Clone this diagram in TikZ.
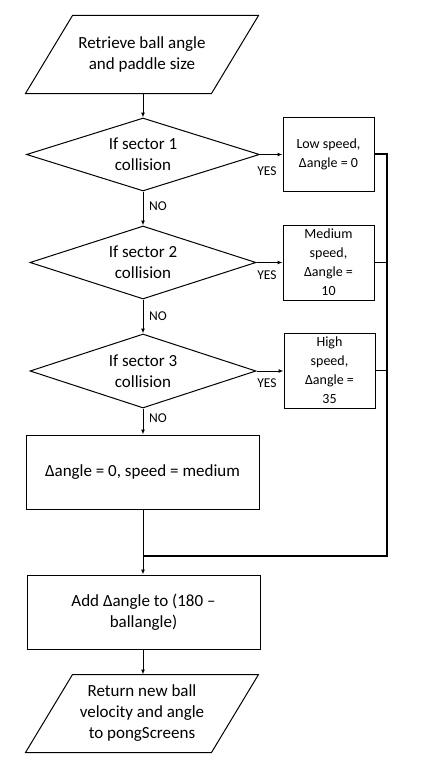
\documentclass[tikz,border=0pt]{standalone}
\usepackage{fontspec}
\setmainfont{Carlito}
\usepackage{tikz}
\usetikzlibrary{arrows.meta,shapes.geometric}
\newcommand{\arrw}{-{Latex[length=5pt,width=4pt]}}
\newcommand{\slantbox}[1]{\draw ([xshift=23.5pt]#1.north west) -- ([xshift=23.5pt]#1.north east)
  -- ([xshift=-23.5pt]#1.south east) -- ([xshift=-23.5pt]#1.south west) -- cycle;}
\tikzset{
  io/.style={minimum width=185pt,minimum height=77pt,inner sep=0pt,
    align=center,font=\fontsize{17}{21}\selectfont},
  decision/.style={diamond,draw,line width=1pt,inner sep=0pt,aspect=3,
    align=center,font=\fontsize{17}{21}\selectfont},
  procbig/.style={draw,line width=1pt,minimum width=233pt,minimum height=74pt,
    align=center,font=\fontsize{17}{21}\selectfont},
  procsmall/.style={draw,line width=1pt,minimum width=91pt,minimum height=75pt,
    inner sep=0pt,align=center,font=\fontsize{14}{19}\selectfont},
  answer/.style={font=\fontsize{13.5}{14}\selectfont,inner sep=0pt}
}

\begin{document}
\begin{tikzpicture}[x=1pt,y=1pt,line width=1pt]
\useasboundingbox (0,0) rectangle (426,-768);
%inputs and decisions
\node[io] (start) at (142,-54.5) {Retrieve ball angle\\and paddle size};
\slantbox{start}
\node[decision,minimum width=233pt,minimum height=73pt] (d1) at (143,-154.5) {If sector 1\\collision};
\node[decision,minimum width=226pt,minimum height=73pt] (d2) at (143,-262.5) {If sector 2\\collision};
\node[decision,minimum width=226pt,minimum height=74pt] (d3) at (143,-371) {If sector 3\\collision};
%speed boxes
\node[procsmall,minimum height=74pt] (b1) at (328.5,-154) {Low speed,\\Δangle = 0};
\node[procsmall] (b2) at (328.5,-262.5) {Medium\\speed,\\Δangle =\\10};
\node[procsmall] (b3) at (329.5,-370.5) {High\\speed,\\Δangle =\\35};
\node[procbig] (b4) at (142.5,-472) {Δangle = 0, speed = medium};
\node[procbig] (b5) at (143.5,-612) {Add Δangle to (180 --\\ballangle)};
\node[io] (stop) at (142,-713.5) {Return new ball\\velocity and angle\\to pongScreens};
\slantbox{stop}
\coordinate (join) at (143,-556);
\coordinate (corner) at (387,-556);
%connectors
\draw[\arrw] (start.south -| d1.north) -- (d1.north);
\draw[\arrw] (d1.south) -- (d2.north);
\draw[\arrw] (d2.south) -- (d3.north);
\draw[\arrw] (d3.south) -- (b4.north -| d3.south);
\draw[\arrw] (d1.east) -- (d1.east -| b1.west);
\draw[\arrw] (d2.east) -- (d2.east -| b2.west);
\draw[\arrw] (d3.east) -- (d3.east -| b3.west);
\draw[line width=1.6pt] (b1.east) -| (corner) -- (join);
\draw (b2.east) -- (b2.east -| corner);
\draw (b3.east) -- (b3.east -| corner);
\draw[\arrw] (b4.south -| join) -- (b5.north -| join);
\draw[\arrw] (b5.south -| join) -- (stop.north -| join);
%labels
\node[answer] (y1) at (267,-171) {YES};
\node[answer] (y2) at (267,-275) {YES};
\node[answer] (y3) at (267,-383) {YES};
\node[answer] (n1) at (158,-206) {NO};
\node[answer] (n2) at (158,-316) {NO};
\node[answer] (n3) at (158,-418) {NO};
\end{tikzpicture}
\end{document}
